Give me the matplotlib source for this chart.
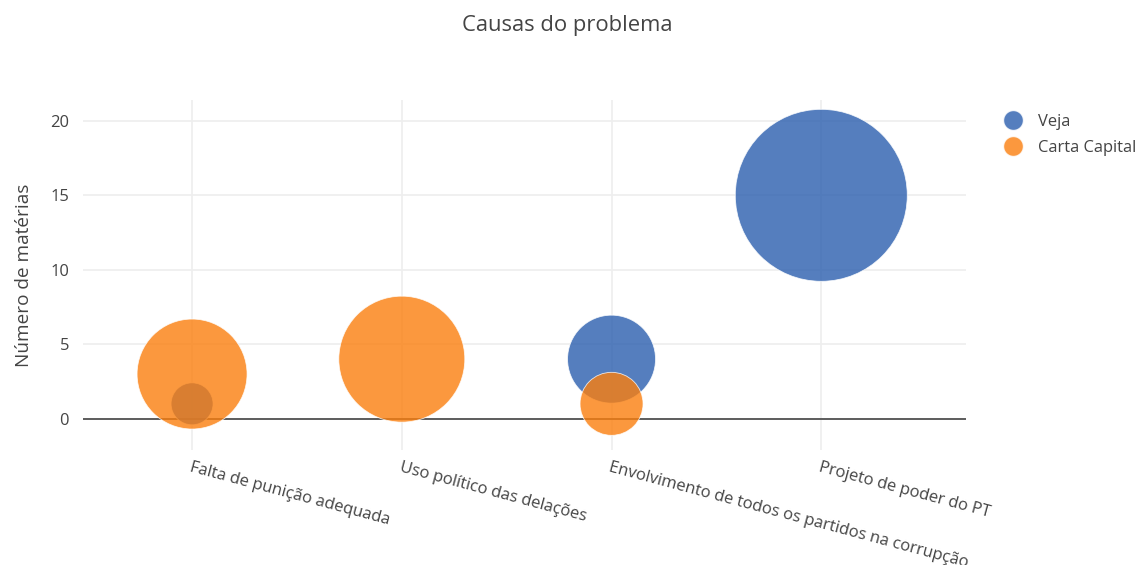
import matplotlib
matplotlib.use("Agg")
import matplotlib.pyplot as plt
from matplotlib.lines import Line2D

# DATA ==================================================================================

categories = [
    "Falta de punição adequada",
    "Uso político das delações",
    "Envolvimento de todos os partidos na corrupção",
    "Projeto de poder do PT",
]

veja_x = [0, 2, 3]
veja_y = [1, 4, 15]
veja_diam = [42, 88, 172]        # bubble diameter in px

carta_x = [0, 1, 2]
carta_y = [3, 4, 1]
carta_diam = [110, 126, 63]      # bubble diameter in px

y_ticks = [0, 5, 10, 15, 20]

# STYLE =================================================================================

plt.rcParams["font.family"] = ["Open Sans", "DejaVu Sans"]
PX = 0.72                        # px -> pt at dpi 100
c_veja = "#2f62b0"
c_carta = "#fb7f0e"
txt = "#444444"
fs_tick = 16.5 * PX

fig = plt.figure(figsize=(11.43, 5.65), dpi=100)
ax = fig.add_axes([83 / 1143, 1 - 450 / 565, (966 - 83) / 1143, 350 / 565])

ax.scatter(veja_x, veja_y, s=[(d * PX) ** 2 for d in veja_diam], color=c_veja,
           alpha=0.82, edgecolors="white", linewidths=0.6, zorder=3)
ax.scatter(carta_x, carta_y, s=[(d * PX) ** 2 for d in carta_diam], color=c_carta,
           alpha=0.8, edgecolors="white", linewidths=0.6, zorder=4)

ax.set_xlim(-0.52, 3.69)
ax.set_ylim(-2.1, 21.4)
ax.set_yticks(y_ticks)
ax.set_xticks(range(len(categories)))
ax.set_xticklabels(categories, rotation=-15, ha="left", va="top",
                   rotation_mode="anchor", fontsize=fs_tick, color=txt)
ax.tick_params(axis="y", labelsize=fs_tick, labelcolor=txt, length=0, pad=10)
ax.tick_params(axis="x", length=0, pad=7)
ax.grid(True, color="#eeeeee", linewidth=1.2, zorder=0)
ax.axhline(0, color="#444444", linewidth=1.2, zorder=2)
for sp in ax.spines.values():
    sp.set_visible(False)
ax.set_axisbelow(True)

ax.set_ylabel("Número de matérias", fontsize=19 * PX, color=txt, labelpad=12)
fig.text(567 / 1143, 1 - 25 / 565, "Causas do problema", ha="center", va="center",
         fontsize=22 * PX, color=txt)

handles = [
    Line2D([], [], marker="o", linestyle="", markersize=20 * PX, color=c_veja, alpha=0.82,
           markeredgecolor="white", label="Veja"),
    Line2D([], [], marker="o", linestyle="", markersize=20 * PX, color=c_carta, alpha=0.8,
           markeredgecolor="white", label="Carta Capital"),
]
fig.legend(handles=handles, loc="upper left", bbox_to_anchor=(996 / 1143, 1 - 114 / 565),
           frameon=False, fontsize=fs_tick, labelcolor=txt, handletextpad=0.55,
           labelspacing=0.62, borderaxespad=0, borderpad=0)

fig.savefig("out.png", dpi=100)
